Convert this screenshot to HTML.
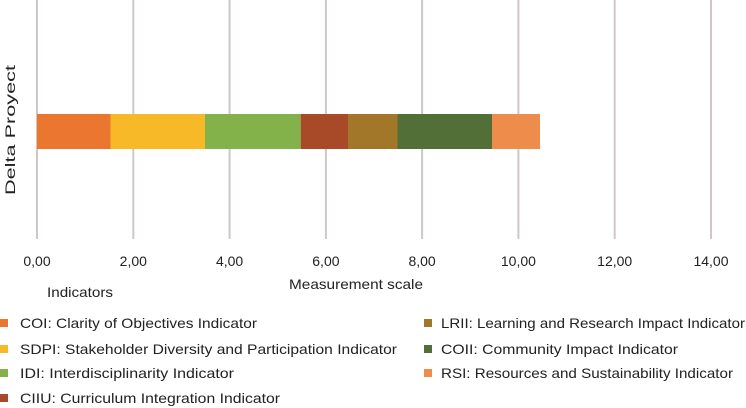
<!DOCTYPE html>
<html><head><meta charset="utf-8"><style>
html,body{margin:0;padding:0;background:#fff;width:746px;height:408px;overflow:hidden}
text{font-family:"Liberation Sans",sans-serif;fill:#222}
</style></head><body>
<svg width="746" height="408" viewBox="0 0 746 408" xmlns="http://www.w3.org/2000/svg">
<g stroke="#cfc7c7" stroke-width="2">
<line x1="37" y1="0" x2="37" y2="239"/><line x1="133.3" y1="0" x2="133.3" y2="239"/>
<line x1="229.6" y1="0" x2="229.6" y2="239"/><line x1="325.9" y1="0" x2="325.9" y2="239"/>
<line x1="422.1" y1="0" x2="422.1" y2="239"/><line x1="518.4" y1="0" x2="518.4" y2="239"/>
<line x1="614.7" y1="0" x2="614.7" y2="239"/><line x1="711" y1="0" x2="711" y2="239"/>
</g>
<rect x="37" y="114" width="73.5" height="35" fill="#ea762f"/>
<rect x="110.5" y="114" width="94.5" height="35" fill="#f8b928"/>
<rect x="205" y="114" width="95.7" height="35" fill="#83b14a"/>
<rect x="300.7" y="114" width="47.3" height="35" fill="#a84a27"/>
<rect x="348" y="114" width="49.5" height="35" fill="#a3772a"/>
<rect x="397.5" y="114" width="94.5" height="35" fill="#516f37"/>
<rect x="492" y="114" width="48" height="35" fill="#ee8d4b"/>
<g font-size="14" text-anchor="middle">
<text x="37" y="266">0,00</text><text x="133.3" y="266">2,00</text><text x="229.6" y="266">4,00</text>
<text x="325.9" y="266">6,00</text><text x="422.1" y="266">8,00</text><text x="518.4" y="266">10,00</text>
<text x="614.7" y="266">12,00</text><text x="711" y="266">14,00</text>
</g>
<text x="356" y="289" font-size="14" text-anchor="middle" textLength="134" lengthAdjust="spacingAndGlyphs">Measurement scale</text>
<text x="47" y="297" font-size="14" textLength="66" lengthAdjust="spacingAndGlyphs">Indicators</text>
<text transform="translate(15,130) rotate(-90)" font-size="14" text-anchor="middle" textLength="130" lengthAdjust="spacingAndGlyphs">Delta Proyect</text>
<g font-size="14">
<rect x="0" y="319" width="8" height="8" fill="#ea762f"/><text x="20" y="328" textLength="237" lengthAdjust="spacingAndGlyphs">COI: Clarity of Objectives Indicator</text>
<rect x="0" y="345" width="8" height="8" fill="#f8b928"/><text x="20" y="354" textLength="377" lengthAdjust="spacingAndGlyphs">SDPI: Stakeholder Diversity and Participation Indicator</text>
<rect x="0" y="369" width="8" height="8" fill="#83b14a"/><text x="20" y="378" textLength="214" lengthAdjust="spacingAndGlyphs">IDI: Interdisciplinarity Indicator</text>
<rect x="0" y="394" width="8" height="8" fill="#a84a27"/><text x="20" y="403" textLength="260" lengthAdjust="spacingAndGlyphs">CIIU: Curriculum Integration Indicator</text>
<rect x="424" y="319" width="8" height="8" fill="#a3772a"/><text x="441" y="328" textLength="304" lengthAdjust="spacingAndGlyphs">LRII: Learning and Research Impact Indicator</text>
<rect x="424" y="345" width="8" height="8" fill="#516f37"/><text x="441" y="354" textLength="237" lengthAdjust="spacingAndGlyphs">COII: Community Impact Indicator</text>
<rect x="424" y="369" width="8" height="8" fill="#ee8d4b"/><text x="441" y="378" textLength="292" lengthAdjust="spacingAndGlyphs">RSI: Resources and Sustainability Indicator</text>
</g>
</svg>
</body></html>
